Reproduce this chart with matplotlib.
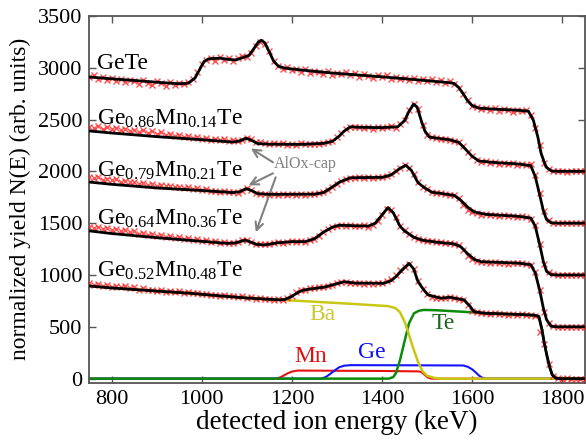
import numpy as np
import matplotlib.pyplot as plt

plt.rcParams['font.family'] = ['Liberation Serif', 'DejaVu Serif']
plt.rcParams['mathtext.fontset'] = 'custom'
plt.rcParams['mathtext.rm'] = 'Liberation Serif'
plt.rcParams['mathtext.it'] = 'Liberation Serif:italic'

# measured spectra, 10 keV channels from 750 to 1850 keV
energy = np.arange(750, 1851, 10)

meas_gete = [2915, 2925, 2890, 2910, 2880, 2900, 2870, 2895, 2860, 2885,
             2870, 2840, 2880, 2855, 2830, 2870, 2850, 2820, 2860, 2835,
             2855, 2840, 2865, 2890, 2960, 3040, 3070, 3090, 3060, 3100,
             3075, 3090, 3065, 3095, 3110, 3100, 3140, 3210, 3250, 3230,
             3160, 3060, 3020, 2990, 3010, 2975, 2990, 2960, 2985, 2950,
             2970, 2955, 2940, 2965, 2930, 2950, 2935, 2955, 2925, 2945,
             2915, 2935, 2920, 2900, 2925, 2910, 2930, 2895, 2915, 2890,
             2905, 2880, 2900, 2875, 2895, 2870, 2890, 2860, 2880, 2850,
             2870, 2840, 2800, 2750, 2690, 2630, 2625, 2600, 2615, 2590,
             2610, 2585, 2600, 2590, 2575, 2595, 2580, 2590, 2545, 2420,
             2250, 2080, 2020, 2005, 2000, 2002, 1998, 2000, 2003, 1999,
             2000]
meas_mn14 = [2430, 2420, 2435, 2410, 2425, 2405, 2415, 2395, 2410, 2390,
             2400, 2380, 2395, 2370, 2385, 2360, 2375, 2355, 2365, 2345,
             2355, 2335, 2345, 2325, 2335, 2315, 2325, 2305, 2315, 2300,
             2310, 2295, 2300, 2290, 2305, 2325, 2310, 2285, 2280, 2270,
             2265, 2275, 2260, 2270, 2255, 2265, 2250, 2270, 2260, 2265,
             2265, 2260, 2275, 2285, 2295, 2330, 2370, 2405, 2430, 2425,
             2430, 2415, 2425, 2410, 2430, 2420, 2425, 2435, 2420, 2455,
             2495, 2590, 2650, 2600, 2450, 2355, 2330, 2320, 2310, 2315,
             2300, 2295, 2285, 2240, 2190, 2145, 2110, 2095, 2100, 2085,
             2090, 2075, 2085, 2070, 2080, 2065, 2075, 2060, 2070, 1960,
             1790, 1620, 1530, 1505, 1500, 1498, 1502, 1500, 1499, 1501,
             1500]
meas_mn21 = [1950, 1935, 1945, 1920, 1930, 1915, 1925, 1900, 1910, 1895,
             1900, 1880, 1890, 1870, 1880, 1860, 1870, 1855, 1860, 1845,
             1850, 1835, 1845, 1825, 1835, 1820, 1825, 1810, 1815, 1805,
             1810, 1800, 1805, 1795, 1815, 1835, 1820, 1790, 1785, 1780,
             1775, 1785, 1770, 1780, 1775, 1785, 1770, 1780, 1775, 1785,
             1780, 1790, 1800, 1820, 1850, 1880, 1905, 1925, 1940, 1935,
             1945, 1935, 1945, 1940, 1950, 1945, 1955, 1970, 2000, 2035,
             2060, 2035, 1970, 1895, 1850, 1825, 1805, 1795, 1790, 1780,
             1775, 1770, 1740, 1680, 1630, 1605, 1595, 1580, 1585, 1575,
             1580, 1570, 1575, 1565, 1570, 1560, 1565, 1555, 1540, 1480,
             1300, 1110, 1030, 1005, 1000, 998, 1002, 1000, 999, 1001,
             1000]
meas_mn36 = [1465, 1450, 1460, 1440, 1450, 1430, 1440, 1420, 1430, 1410,
             1420, 1400, 1405, 1390, 1395, 1380, 1385, 1370, 1375, 1360,
             1365, 1350, 1355, 1340, 1345, 1330, 1335, 1320, 1325, 1310,
             1315, 1305, 1310, 1315, 1335, 1340, 1320, 1300, 1295, 1300,
             1295, 1305, 1315, 1310, 1320, 1325, 1315, 1330, 1320, 1335,
             1350, 1375, 1410, 1440, 1460, 1475, 1485, 1470, 1480, 1475,
             1470, 1480, 1465, 1480, 1520, 1580, 1640, 1630, 1560, 1475,
             1430, 1395, 1370, 1350, 1340, 1330, 1325, 1320, 1315, 1310,
             1305, 1300, 1285, 1240, 1185, 1150, 1135, 1130, 1125, 1120,
             1125, 1115, 1120, 1110, 1118, 1112, 1115, 1108, 1100, 1030,
             860, 640, 540, 510, 500, 498, 502, 500, 499, 501,
             500]
meas_mn48 = [920, 905, 915, 895, 905, 885, 895, 880, 890, 870,
             880, 860, 870, 855, 860, 845, 855, 840, 845, 835,
             845, 830, 840, 825, 830, 815, 820, 805, 810, 800,
             805, 795, 800, 785, 795, 780, 785, 770, 780, 765,
             770, 760, 765, 755, 775, 800, 835, 855, 860, 870,
             870, 880, 885, 890, 905, 920, 935, 930, 925, 920,
             925, 915, 920, 910, 920, 925, 940, 965, 1000, 1045,
             1080, 1105, 1060, 940, 865, 815, 790, 780, 775, 780,
             785, 775, 770, 755, 710, 650, 640, 630, 635, 625,
             630, 620, 625, 615, 622, 618, 620, 612, 615, 605,
             450, 330, 140, 25, 3, 0, 2, -2, 1, 0,
             0]

# simulated fits (keypoints)
fit_gete_e = [750, 800, 850, 900, 950, 970, 985, 995, 1005, 1015, 1040, 1060, 1075,
              1090, 1105, 1115, 1125, 1132, 1140, 1150, 1160, 1170, 1185, 1250,
              1300, 1400, 1500, 1550, 1560, 1570, 1580, 1590, 1600, 1615, 1650,
              1700, 1725, 1736, 1746, 1753, 1764, 1776, 1790, 1850]
fit_gete = [2910, 2893, 2877, 2860, 2845, 2850, 2900, 2980, 3060, 3085, 3092, 3080, 3075,
            3095, 3120, 3180, 3245, 3265, 3240, 3150, 3060, 3015, 2995, 2965,
            2945, 2912, 2875, 2855, 2848, 2810, 2750, 2680, 2635, 2610, 2600,
            2590, 2580, 2490, 2327, 2173, 2041, 2003, 2000, 2000]
fit_mn14_e = [750, 800, 900, 1000, 1070, 1085, 1098, 1110, 1124, 1150, 1220, 1270,
              1290, 1305, 1315, 1330, 1350, 1400, 1435, 1450, 1460, 1470, 1478,
              1487, 1495, 1505, 1550, 1570, 1585, 1600, 1615, 1650, 1700, 1730,
              1740, 1750, 1758, 1765, 1775, 1790, 1850]
fit_mn14 = [2390, 2370, 2335, 2305, 2282, 2295, 2320, 2300, 2268, 2262, 2260, 2270,
            2290, 2340, 2385, 2430, 2425, 2422, 2430, 2490, 2580, 2648, 2620,
            2490, 2390, 2330, 2305, 2280, 2215, 2145, 2100, 2085, 2072, 2055,
            1950, 1770, 1620, 1535, 1503, 1500, 1500]
fit_mn21_e = [750, 800, 900, 1000, 1070, 1085, 1098, 1110, 1124, 1150, 1250, 1270,
              1290, 1305, 1330, 1360, 1400, 1420, 1440, 1453, 1465, 1480, 1495,
              1510, 1560, 1575, 1590, 1605, 1630, 1700, 1730, 1740, 1750, 1758,
              1765, 1775, 1790, 1850]
fit_mn21 = [1897, 1875, 1840, 1815, 1795, 1805, 1833, 1815, 1785, 1778, 1780, 1795,
            1850, 1895, 1938, 1940, 1942, 1965, 2030, 2058, 2010, 1890, 1840,
            1800, 1768, 1720, 1655, 1608, 1585, 1567, 1550, 1470, 1290, 1130,
            1035, 1003, 1000, 1000]
fit_mn36_e = [750, 800, 900, 1000, 1056, 1075, 1096, 1108, 1122, 1140, 1167, 1200,
              1230, 1250, 1271, 1290, 1305, 1340, 1370, 1385, 1400, 1413, 1425,
              1440, 1450, 1470, 1490, 1530, 1560, 1575, 1590, 1605, 1620, 1700,
              1730, 1740, 1750, 1758, 1765, 1775, 1790, 1850]
fit_mn36 = [1426, 1400, 1360, 1325, 1305, 1310, 1336, 1318, 1295, 1290, 1310, 1322,
            1322, 1350, 1416, 1462, 1480, 1475, 1472, 1500, 1580, 1650, 1600,
            1470, 1425, 1365, 1335, 1312, 1300, 1272, 1205, 1150, 1128, 1115,
            1100, 1020, 850, 680, 570, 505, 500, 500]
fit_mn48_e = [750, 800, 900, 973, 1050, 1107, 1173, 1185, 1198, 1215, 1227, 1250,
              1271, 1295, 1316, 1340, 1404, 1420, 1431, 1445, 1460, 1470, 1480,
              1492, 1502, 1531, 1550, 1582, 1595, 1604, 1627, 1700, 1738, 1748,
              1755, 1760, 1766, 1772, 1778, 1786, 1795, 1850]
fit_mn48 = [894, 875, 845, 824, 795, 776, 760, 765, 790, 835, 856, 870,
            882, 910, 935, 922, 920, 945, 984, 1050, 1112, 1060, 935,
            860, 808, 776, 785, 760, 700, 647, 631, 620, 612, 600,
            470, 345, 220, 110, 35, 3, 0, 0]

# elemental contributions for Ge0.52Mn0.48Te
ba_e = [750, 800, 900, 973, 1050, 1107, 1176, 1250, 1331, 1413, 1430, 1440, 1450,
        1458, 1468, 1480, 1490, 1500, 1515, 1530, 1850]
ba = [894, 875, 845, 824, 795, 776, 760, 742, 722, 700, 680, 640, 550,
      450, 310, 160, 70, 28, 8, 0, 0]
te_e = [750, 1415, 1425, 1431, 1440, 1449, 1460, 1471, 1482, 1493, 1520, 1560, 1600,
        1620, 1700, 1738, 1748, 1755, 1760, 1766, 1772, 1778, 1786, 1795, 1850]
te = [0, 0, 15, 55, 180, 343, 535, 631, 655, 663, 660, 650, 640,
      633, 620, 612, 600, 470, 345, 220, 110, 35, 3, 0, 0]
mn_e = [750, 1160, 1170, 1180, 1190, 1200, 1213, 1300, 1400, 1480, 1487, 1495, 1502, 1510, 1850]
mn = [0, 0, 5, 25, 50, 68, 78, 76, 74, 70, 65, 35, 10, 0, 0]
ge_e = [750, 1265, 1275, 1285, 1295, 1305, 1316, 1330, 1450, 1580, 1590, 1600, 1608,
        1615, 1622, 1630, 1850]
ge = [0, 0, 15, 45, 80, 110, 125, 130, 129, 127, 115, 90, 60, 30, 10, 0, 0]

labels = ['GeTe', r'Ge$_{0.86}$Mn$_{0.14}$Te', r'Ge$_{0.79}$Mn$_{0.21}$Te',
          r'Ge$_{0.64}$Mn$_{0.36}$Te', r'Ge$_{0.52}$Mn$_{0.48}$Te']
label_y = [2990, 2450, 1945, 1490, 980]

measured = [meas_gete, meas_mn14, meas_mn21, meas_mn36, meas_mn48]
fits = [(fit_gete_e, fit_gete), (fit_mn14_e, fit_mn14), (fit_mn21_e, fit_mn21),
        (fit_mn36_e, fit_mn36), (fit_mn48_e, fit_mn48)]

fig = plt.figure(figsize=(5.86, 4.41), dpi=100)
ax = fig.add_axes([0.152, 0.132, 0.846, 0.832])

ax.plot(mn_e, mn, color='#e81010', lw=1.5, zorder=2)
ax.plot(ge_e, ge, color='#1414ff', lw=1.5, zorder=2)
ax.plot(te_e, te, color='#0c8a0c', lw=1.8, zorder=2)
ax.plot(ba_e, ba, color='#c8c814', lw=1.8, zorder=2)

for m in measured:
    ax.plot(energy, m, ls='none', marker='x', ms=4.5, mew=1.0,
            color='#ff1a1a', alpha=0.75, zorder=3)
for fe, fv in fits:
    ax.plot(fe, fv, color='k', lw=2, zorder=4)

for lab, ly in zip(labels, label_y):
    ax.text(768, ly, lab, fontsize=17, ha='left', va='baseline', zorder=5)

ax.text(1268, 615, 'Ba', color='#c8c832', fontsize=17, ha='center', va='center')
ax.text(1536, 530, 'Te', color='#1f6a1f', fontsize=17, ha='center', va='center')
ax.text(1242, 212, 'Mn', color='#e01010', fontsize=17, ha='center', va='center')
ax.text(1378, 250, 'Ge', color='#1010ee', fontsize=17, ha='center', va='center')

# AlOx cap annotation
ax.text(1160, 2067, 'AlOx-cap', color='#808080', fontsize=11.5, ha='left', va='center')
arr = dict(arrowstyle='->', color='#808080', lw=1.5, mutation_scale=14,
           shrinkA=0, shrinkB=0)
ax.annotate('', xy=(1109, 2221), xytext=(1158, 2087), arrowprops=arr)
ax.annotate('', xy=(1104, 1865), xytext=(1158, 1981), arrowprops=arr)
ax.annotate('', xy=(1120, 1413), xytext=(1164, 1942), arrowprops=arr)

ax.set_xlim(750, 1850)
ax.set_ylim(-40, 3500)
ax.set_xticks([800, 1000, 1200, 1400, 1600, 1800])
ax.set_yticks([0, 500, 1000, 1500, 2000, 2500, 3000, 3500])
ax.tick_params(direction='in', top=True, right=True, length=5, width=1,
               color='#555555', labelsize=16, pad=5)
for s in ax.spines.values():
    s.set_color('#555555')
    s.set_linewidth(1.3)

ax.set_xlabel('detected ion energy (keV)', fontsize=19.5, labelpad=1)
ax.set_ylabel('normalized yield N(E) (arb. units)', fontsize=17, labelpad=5)

plt.savefig('out.png', dpi=100)
